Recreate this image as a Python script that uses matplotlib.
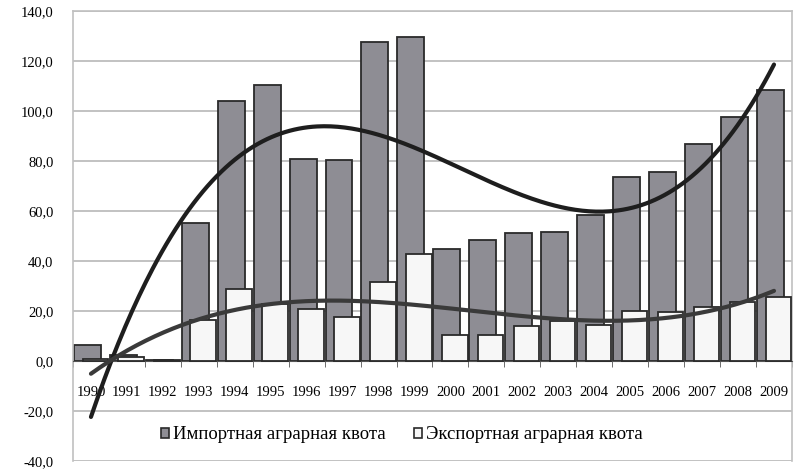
import numpy as np
import matplotlib.pyplot as plt
from matplotlib.patches import Patch
from matplotlib.ticker import FuncFormatter, MultipleLocator

years = [str(y) for y in range(1990, 2010)]
import_quota = [6.5, 2.4, 0.5, 55.2, 104.0, 110.4, 80.8, 80.4, 127.6, 129.8,
                44.8, 48.4, 51.2, 51.6, 58.4, 73.6, 75.6, 86.8, 97.6, 108.4]
export_quota = [1.0, 1.5, 0.5, 16.4, 29.0, 22.8, 21.0, 17.5, 31.6, 43.0,
                10.4, 10.6, 14.0, 16.0, 14.4, 20.0, 19.6, 21.6, 23.6, 25.6]
labels = ["Импортная аграрная квота", "Экспортная аграрная квота"]

plt.rcParams["font.family"] = ["Liberation Serif", "DejaVu Serif"]

fig = plt.figure(figsize=(8.02, 4.70), dpi=100)
ax = fig.add_axes([0.091, 0.019, 0.8965, 0.9575])

x = np.arange(len(years))
ax.bar(x - 0.10, import_quota, width=0.75, color="#8e8d94",
       edgecolor="#2a2a2a", linewidth=1.3, zorder=2)
ax.bar(x + 0.12, export_quota, width=0.71, color="#f7f7f7",
       edgecolor="#2a2a2a", linewidth=1.3, zorder=3)

# polynomial (3rd order) trend lines, as in the spreadsheet chart
xs = np.linspace(0, len(years) - 1, 300)
for vals, col in [(import_quota, "#1e1e1e"), (export_quota, "#3a3a3a")]:
    coef = np.polyfit(x + 1, vals, 3)
    ax.plot(xs, np.polyval(coef, xs + 1), color=col, lw=3, zorder=4,
            solid_capstyle="round")

ax.set_xlim(-0.5, len(years) - 0.5)
ax.set_ylim(-40, 140)
ax.yaxis.set_major_locator(MultipleLocator(20))
ax.yaxis.set_major_formatter(FuncFormatter(lambda v, p: f"{v:.1f}".replace(".", ",")))
ax.grid(axis="y", color="#b8b8b8", lw=1.2, zorder=0)
ax.set_axisbelow(True)

ax.spines["bottom"].set_position(("data", 0))
ax.spines["bottom"].set_color("#555555")
for s in ["left", "right", "top"]:
    ax.spines[s].set_color("#c0c0c0")
    ax.spines[s].set_linewidth(1.2)

ax.set_xticks(x)
ax.set_xticklabels(years, fontsize=10.5)
ax.set_xticks(np.arange(-0.5, len(years), 1), minor=True)
ax.tick_params(axis="x", which="major", length=0, pad=18)
ax.tick_params(axis="x", which="minor", length=4, color="#555555")
ax.tick_params(axis="y", length=0, labelsize=10.5, pad=14)

handles = [Patch(facecolor="#8e8d94", edgecolor="#2a2a2a", lw=1.2),
           Patch(facecolor="#f7f7f7", edgecolor="#2a2a2a", lw=1.2)]
ax.legend(handles, labels, loc="center", bbox_to_anchor=(0.4576, 0.058),
          ncol=2, frameon=False, fontsize=13.5, handlelength=0.45,
          handleheight=0.45, handletextpad=0.2, columnspacing=1.5)

fig.savefig("out.png", dpi=100)
